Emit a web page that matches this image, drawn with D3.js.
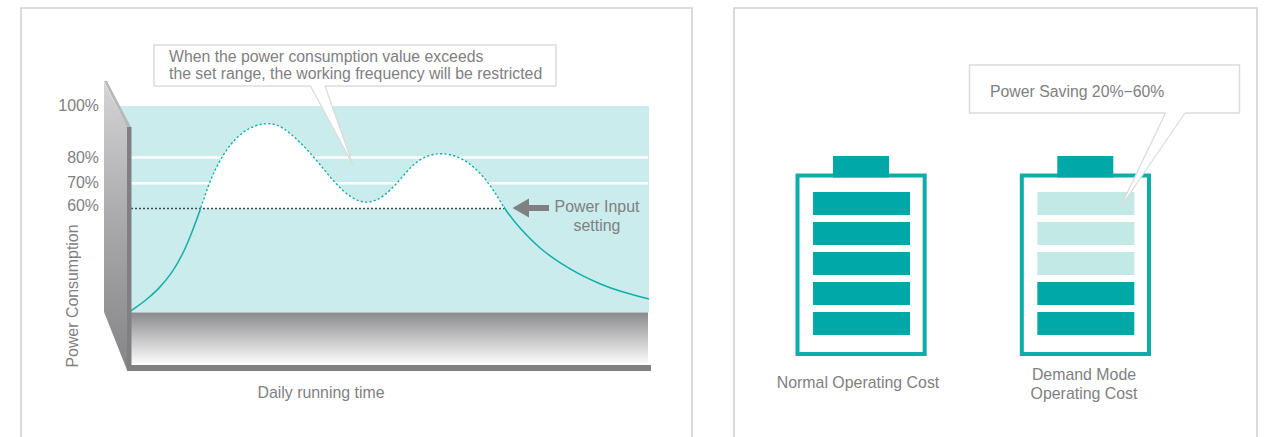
<!DOCTYPE html>
<html>
<head>
<meta charset="utf-8">
<script src="https://cdn.jsdelivr.net/npm/d3@7"></script>
<style>
  html, body { margin: 0; background: #fff; overflow: hidden; }
  text { font-family: "Liberation Sans", Arial, sans-serif; fill: #808082; font-size: 15.9px; }
</style>
</head>
<body>
<div id="chart"></div>
<script>
// Values
const usageTicks = [100, 80, 70, 60];
const whiteLevels = [80, 70];
const inputSetting = 60;
const curveTime = [0, 2.7, 5.3, 7.9, 10.1, 11.7, 13.5, 15.2, 17.8, 20.4, 23, 26.5, 29.4, 32.6, 35.9, 39.1, 42.3, 45.5, 48.7, 51.9, 54.5, 57.1, 60, 63.5, 66.7, 69.9, 72, 75.1, 79, 82.8, 86.7, 90.5, 94.4, 100];
const curveUsage = [20, 23.8, 28.4, 34.6, 42.5, 50.3, 60, 71, 81.4, 87.9, 91.8, 93.8, 91.8, 86, 78.8, 70.4, 64.2, 61.6, 64.2, 71, 77.5, 80.6, 81.8, 80.2, 75.6, 67.8, 60, 52, 44.1, 38.7, 34, 30.5, 27.5, 24.6];
const crossTimes = [13.5, 72];
const batteryNames = [["Normal Operating Cost"], ["Demand Mode", "Operating Cost"]];
const batterySaved = [0, 3]; // cells drawn pale, counted from the top
const batteryCells = [0, 1, 2, 3, 4];

const teal = "#00a9a7", pale = "#c3e9e7", grey = "#808082", boxLine = "#dcdcdc";

const svg = d3.select("#chart").append("svg").attr("width", 1264).attr("height", 437).style("display", "block");

// gradients for the fake 3D box
const defs = svg.append("defs");
function gradient(id, stops) {
  const g = defs.append("linearGradient").attr("id", id).attr("x1", 0).attr("x2", 0).attr("y1", 0).attr("y2", 1);
  stops.forEach((c, i) => g.append("stop").attr("offset", i / (stops.length - 1)).attr("stop-color", c));
}
gradient("wall", ["#d4d4d6", "#a8a8aa", "#858587"]);
gradient("floor", ["#8a8a8c", "#c6c6c8", "#ffffff"]);

// panels
svg.selectAll("rect.panel")
  .data([[21, 671], [734, 523]])
  .enter().append("rect")
  .attr("class", "panel")
  .attr("x", d => d[0]).attr("y", 8)
  .attr("width", d => d[1]).attr("height", 460)
  .attr("fill", "none").attr("stroke", "#cfcfcf").attr("stroke-width", 1.5);

// Left chart
const x = d3.scaleLinear().domain([0, 100]).range([131, 649]);
const y = d3.scaleLinear().domain([0, 100]).range([362, 106]);
const points = curveTime.map((t, i) => ({ t, v: curveUsage[i] }));

// split the one curve into solid and dotted parts with clips
function clip(id, ranges) {
  const c = defs.append("clipPath").attr("id", id);
  ranges.forEach(r => c.append("rect").attr("x", x(r[0])).attr("width", x(r[1]) - x(r[0])).attr("y", 0).attr("height", 437));
}
clip("over", [crossTimes]);
clip("under", [[0, crossTimes[0]], [crossTimes[1], 100]]);

svg.append("rect").attr("x", 120).attr("y", y(100)).attr("width", 529).attr("height", 206.5).attr("fill", "#caecec");

svg.selectAll("line.level")
  .data(whiteLevels)
  .enter().append("line")
  .attr("class", "level")
  .attr("x1", x(0)).attr("x2", 648)
  .attr("y1", d => y(d) + 0.4).attr("y2", d => y(d) + 0.4)
  .attr("stroke", "#fff").attr("stroke-width", 2.5);

const curve = d3.curveBasis;
const line = d3.line().x(d => x(d.t)).y(d => y(d.v)).curve(curve);
const area = d3.area().x(d => x(d.t)).y0(y(inputSetting)).y1(d => y(d.v)).curve(curve);

svg.append("path").attr("d", area(points)).attr("fill", "#fff").attr("clip-path", "url(#over)");

svg.append("line")
  .attr("x1", x(0)).attr("x2", x(crossTimes[1]))
  .attr("y1", y(inputSetting)).attr("y2", y(inputSetting))
  .attr("stroke", "#46484a").attr("stroke-width", 1.5).attr("stroke-dasharray", "2,2");

svg.append("path").attr("d", line(points)).attr("fill", "none").attr("clip-path", "url(#over)")
  .attr("stroke", "#12aeaa").attr("stroke-width", 1.4).attr("stroke-dasharray", "2.2,2.2");
svg.append("path").attr("d", line(points)).attr("fill", "none").attr("clip-path", "url(#under)")
  .attr("stroke", "#12aeaa").attr("stroke-width", 1.5);

// box sides
svg.append("rect").attr("x", 127).attr("y", 312.5).attr("width", 521).attr("height", 53).attr("fill", "url(#floor)");
svg.append("polygon").attr("points", "104,82 127,127 127,370 104,312").attr("fill", "url(#wall)");
svg.append("polygon").attr("points", "104,81 107,81 131,127 127,127").attr("fill", "#b9b9bb");
svg.append("rect").attr("x", 127).attr("y", 127).attr("width", 4.5).attr("height", 244).attr("fill", grey);
svg.append("rect").attr("x", 127).attr("y", 365).attr("width", 524).attr("height", 6).attr("fill", grey);

// y labels, nudged up a little the way they sit in the picture
const tickShift = { 100: -1, 80: 0, 70: 0, 60: -2.5 };
const yAxis = svg.append("g")
  .attr("transform", "translate(103,0)")
  .call(d3.axisLeft(y).tickValues(usageTicks).tickFormat(d => d + "%").tickSize(0).tickPadding(4));
yAxis.select(".domain").remove();
yAxis.selectAll("text").attr("fill", null).attr("y", d => tickShift[d]);
yAxis.attr("font-family", null).attr("font-size", null);

svg.append("text").attr("transform", "translate(78,296) rotate(-90)").attr("text-anchor", "middle").text("Power Consumption");
svg.append("text").attr("x", 321).attr("y", 398).attr("text-anchor", "middle").text("Daily running time");

// input setting arrow + note
svg.append("polygon").attr("points", "512.5,208 529,198.5 529,205 549,205 549,211 529,211 529,217.5").attr("fill", grey);
svg.append("text").attr("x", 597).attr("y", 212).attr("text-anchor", "middle").text("Power Input");
svg.append("text").attr("x", 597).attr("y", 231).attr("text-anchor", "middle").text("setting");

// callouts
function callout(bx, by, bw, bh, tail, lines, tx, ty) {
  svg.append("rect").attr("x", bx).attr("y", by).attr("width", bw).attr("height", bh)
    .attr("fill", "#fff").attr("stroke", boxLine).attr("stroke-width", 1.5);
  svg.append("polygon").attr("points", tail.map(p => p.join(",")).join(" ")).attr("fill", "#fff").attr("stroke", "none");
  // open the box edge where the tail leaves it
  svg.append("path").attr("d", `M${tail[0]}L${tail[2]}`).attr("stroke", "#fff").attr("stroke-width", 2);
  svg.append("path").attr("d", `M${tail[0]}L${tail[1]}L${tail[2]}`).attr("fill", "none")
    .attr("stroke", boxLine).attr("stroke-width", 1.3);
  lines.forEach((s, i) => svg.append("text").attr("x", tx).attr("y", ty + i * 17.3).style("font-size", "15.8px").text(s));
}
callout(154, 45, 402, 41, [[310.5, 86], [353, 165], [325, 86]],
  ["When the power consumption value exceeds", "the set range, the working frequency will be restricted"], 169, 61.7);

// Right chart: batteries
const batX = d3.scaleBand().domain([0, 1]).range([795.5, 1151]).paddingInner(93 / 224);
const cellY = d3.scaleBand().domain(batteryCells).range([192, 335]).paddingInner(7 / 30);

const bat = svg.selectAll("g.battery")
  .data(batteryNames)
  .enter().append("g")
  .attr("class", "battery")
  .attr("transform", (d, i) => `translate(${batX(i)},0)`);

bat.append("rect").attr("x", 2).attr("y", 175.5).attr("width", batX.bandwidth() - 4).attr("height", 178.5)
  .attr("fill", "#fff").attr("stroke", "#10aca9").attr("stroke-width", 4);
bat.append("rect").attr("x", 37.5).attr("y", 156).attr("width", 56).attr("height", 21.5).attr("fill", teal);

bat.each(function (name, i) {
  d3.select(this).selectAll("rect.cell")
    .data(batteryCells)
    .enter().append("rect")
    .attr("class", "cell")
    .attr("x", 17.5).attr("width", 97)
    .attr("y", d => cellY(d)).attr("height", cellY.bandwidth())
    .attr("fill", d => d < batterySaved[i] ? pale : teal);
});

svg.append("text").attr("x", 858).attr("y", 387.5).attr("text-anchor", "middle").text(batteryNames[0][0]);
batteryNames[1].forEach((s, i) => {
  svg.append("text").attr("x", 1084).attr("y", 379.5 + i * 19).attr("text-anchor", "middle").text(s);
});

callout(969.5, 65, 270, 48, [[1165.5, 113], [1120, 208], [1185, 113]], ["Power Saving 20%\u221260%"], 990, 96.7);
</script>
</body>
</html>
